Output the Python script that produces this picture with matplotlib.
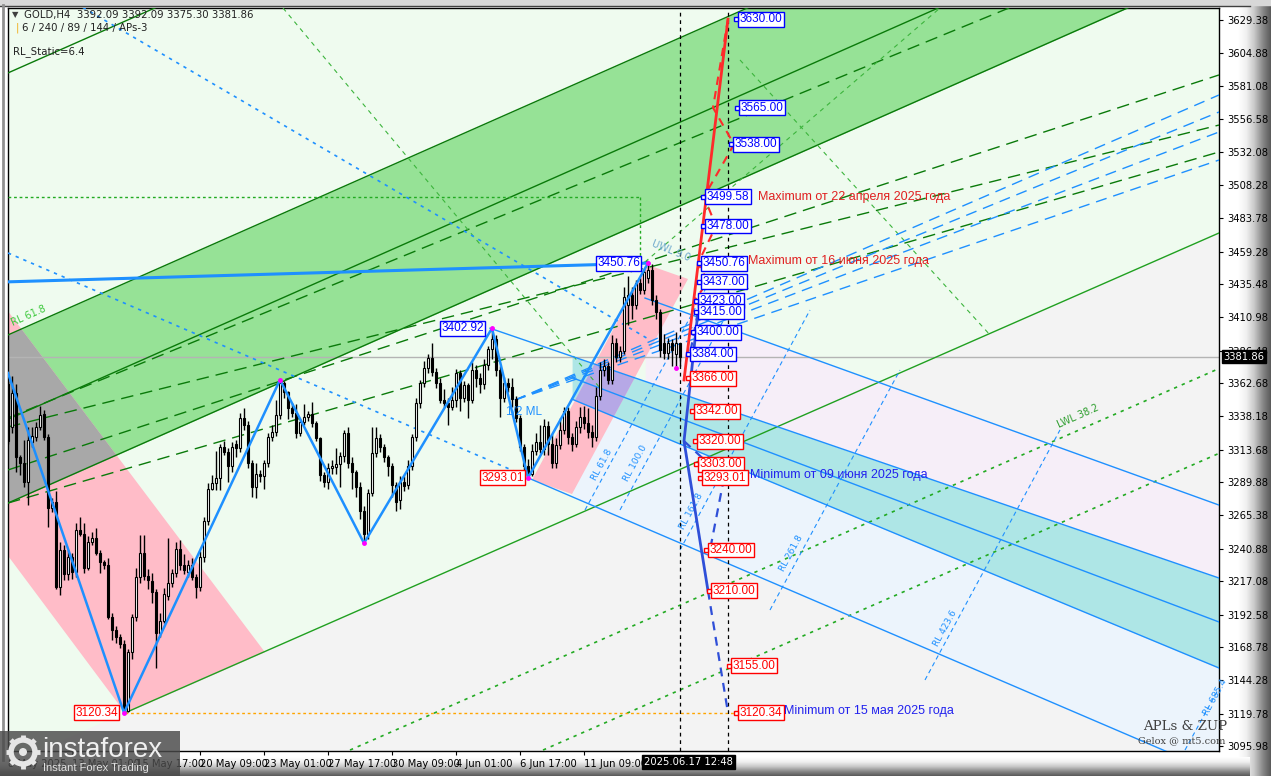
import numpy as np
import matplotlib
matplotlib.use("Agg")
import matplotlib.pyplot as plt
from matplotlib.patches import Polygon, Rectangle, Circle
from matplotlib.colors import LinearSegmentedColormap

# ---------------- data (H4 candles, bar index 0..168) ----------------
opens = [3362,3330,3355,3308,3304,3290,3319,3323,3330,3340,
         3323,3271,3275,3213,3240,3222,3235,3224,3255,3252,
         3227,3246,3249,3238,3231,3229,3191,3181,3176,3171,
         3122,3165,3191,3220,3238,3221,3217,3209,3179,3188,
         3206,3216,3223,3241,3229,3224,3229,3220,3213,3235,
         3261,3285,3289,3293,3316,3312,3302,3318,3315,3337,
         3332,3304,3286,3296,3294,3304,3323,3327,3339,3363,
         3356,3344,3341,3326,3334,3338,3340,3333,3322,3295,
         3290,3300,3301,3303,3309,3326,3304,3297,3286,3269,
         3252,3282,3311,3322,3316,3308,3302,3288,3277,3290,
         3288,3302,3323,3348,3363,3374,3381,3371,3363,3350,
         3348,3345,3350,3370,3352,3361,3350,3372,3366,3362,
         3376,3388,3395,3372,3352,3363,3360,3351,3337,3316,
         3302,3296,3313,3319,3314,3331,3318,3304,3317,3328,
         3342,3323,3318,3330,3338,3333,3327,3323,3353,3372,
         3375,3365,3392,3382,3386,3420,3427,3420,3436,3431,
         3440,3446,3424,3415,3392,3385,3392,3384,3392.09]
highs = [3364,3368,3362,3310,3321,3330,3330,3334,3346,3343,
         3325,3278,3283,3246,3244,3240,3238,3260,3264,3260,
         3250,3253,3256,3240,3233,3234,3194,3184,3178,3174,
         3167,3193,3227,3251,3251,3226,3223,3211,3194,3212,
         3249,3226,3246,3247,3237,3233,3234,3222,3239,3264,
         3289,3295,3313,3318,3320,3315,3319,3321,3341,3344,
         3335,3306,3304,3299,3306,3326,3332,3350,3365,3364,
         3357,3348,3347,3336,3347,3342,3349,3335,3323,3297,
         3304,3306,3315,3312,3328,3330,3308,3299,3290,3272,
         3285,3330,3330,3325,3318,3310,3304,3290,3294,3294,
         3306,3325,3352,3365,3379,3384,3392,3374,3366,3358,
         3352,3360,3373,3372,3364,3363,3378,3376,3370,3380,
         3390,3402.92,3398,3375,3367,3366,3366,3353,3339,3318,
         3307,3318,3326,3332,3336,3335,3325,3322,3337,3345,
         3345,3326,3335,3345,3346,3344,3332,3360,3378,3380,
         3378,3398,3396,3390,3433,3441,3433,3438,3440,3447,
         3450.76,3450,3427,3417,3399,3396,3395,3400,3392.09]
lows = [3318,3326,3297,3295,3286,3273,3316,3320,3328,3321,
        3257,3268,3211,3207,3218,3218,3219,3220,3250,3223,
        3225,3244,3236,3223,3226,3189,3174,3172,3168,3120.34,
        3121,3160,3188,3216,3218,3211,3201,3153,3176,3186,
        3203,3213,3220,3225,3222,3220,3218,3205,3210,3231,
        3258,3284,3284,3284,3310,3290,3297,3308,3312,3328,
        3300,3279,3278,3290,3285,3301,3320,3324,3336,3352,
        3336,3338,3322,3324,3332,3335,3330,3320,3291,3286,
        3285,3296,3296,3286,3305,3300,3285,3279,3263,3245,
        3248,3280,3308,3312,3305,3294,3279,3269,3270,3283,
        3285,3299,3320,3344,3360,3370,3368,3359,3348,3345,
        3332,3343,3345,3342,3349,3337,3348,3360,3355,3358,
        3372,3380,3368,3338,3349,3356,3345,3334,3313,3296,
        3293.01,3294,3310,3311,3310,3310,3300,3300,3314,3325,
        3318,3313,3316,3326,3329,3322,3316,3320,3350,3368,
        3362,3362,3378,3378,3384,3405,3410,3417,3428,3428,
        3436,3420,3410,3382,3380,3380,3375,3374,3375.30]
closes = [3320,3355,3308,3304,3290,3321,3324,3330,3339,3323,
          3271,3275,3213,3240,3222,3235,3224,3255,3252,3227,
          3246,3249,3238,3231,3229,3191,3181,3176,3171,3122,
          3165,3191,3220,3238,3221,3218,3209,3179,3188,3208,
          3216,3223,3241,3229,3225,3229,3220,3213,3235,3261,
          3285,3289,3293,3316,3312,3302,3316,3315,3337,3332,
          3304,3286,3296,3294,3304,3323,3327,3339,3363,3356,
          3344,3341,3326,3334,3338,3340,3333,3322,3295,3290,
          3300,3302,3303,3309,3326,3304,3297,3286,3269,3252,
          3282,3311,3322,3316,3308,3302,3288,3275,3290,3287,
          3302,3323,3348,3363,3374,3381,3371,3363,3350,3348,
          3345,3350,3370,3352,3361,3350,3372,3366,3362,3376,
          3388,3395,3372,3352,3363,3360,3351,3337,3316,3302,
          3296,3313,3319,3314,3331,3318,3304,3317,3328,3342,
          3323,3318,3330,3338,3333,3327,3323,3353,3372,3375,
          3365,3392,3382,3386,3426,3427,3420,3436,3431,3444,
          3446,3424,3415,3387,3385,3392,3387,3392,3381.86]

time_ticks = [0, 16, 32, 48, 64, 80, 96, 112, 128, 144]
time_labels = ["8 May 2025", "13 May 01:00", "15 May 17:00", "20 May 09:00",
               "23 May 01:00", "27 May 17:00", "30 May 09:00", "4 Jun 01:00",
               "6 Jun 17:00", "11 Jun 09:00"]
price_ticks = [3629.38, 3604.88, 3581.08, 3556.58, 3532.08, 3508.28, 3483.78,
               3459.28, 3435.48, 3410.98, 3386.48, 3362.68, 3338.18, 3313.68,
               3289.88, 3265.38, 3240.88, 3217.08, 3192.58, 3168.78, 3144.28,
               3119.78, 3095.98]
last_price = 3381.86
last_time = "2025.06.17 12:48"
last_bar = 168
future_bar = 180

zz_bars = [0, 29, 68, 89, 121, 130, 160]
zz_prices = [3370.0, 3120.34, 3365.0, 3245.0, 3402.92, 3293.01, 3450.76]

up_targets = [3630.00, 3565.00, 3538.00, 3499.58, 3478.00, 3450.76, 3437.00,
              3423.00, 3415.00, 3400.00, 3384.00]
dn_targets = [3366.00, 3342.00, 3320.00, 3303.00, 3293.01, 3240.00, 3210.00,
              3155.00, 3120.34]

# drawn objects, anchors as (bar, price)
green_band_lo = [(0, 3274.5), (103.5, 3409.0)]
green_band_hi = [(0, 3398.0), (103.5, 3532.5)]
green_band_mid = [(0, 3336.0), (103.5, 3470.5)]
green_chan_top = [(0, 3590.5), (103.5, 3725.0)]
green_low_line = [(29.25, 3120.34), (302.75, 3472.9)]
green_dot_1 = [(85.5, 3093.0), (302.75, 3373.3)]
green_dot_2 = [(133.75, 3093.0), (302.75, 3311.0)]
green_fan = [[(0, 3337.0), (302.75, 3701.4)],
             [(0, 3330.4), (302.75, 3552.2)],
             [(0, 3274.5), (302.75, 3532.4)],
             [(0, 3298.8), (302.75, 3589.0)]]
green_thin = [[(68.75, 3638.2), (148, 3359.0)],
              [(183, 3600.0), (245.5, 3398.0)],
              [(159.25, 3451.6), (233, 3638.2)]]
max_apr = 3499.58
pink_hi = [(28, 3306.1), (29, 3302.2)]
pink_lo = [(29.25, 3120.34), (30.25, 3116.4)]
blue_thick = [(0, 3437.0), (160, 3450.76)]
cyan_up = [(120.5, 3402.92), (302.75, 3219.4)]
cyan_mid = [(160.5, 3345.0), (302.75, 3187.1)]
cyan_lo = [(160.5, 3327.0), (302.75, 3153.3)]
line_a = [(159.25, 3425.1), (302.75, 3273.0)]
line_e = [(130, 3293.0), (273, 3112.9)]
blue_dot_1 = [(0, 3458.2), (130, 3293.6)]
blue_dot_2 = [(15, 3645.0), (160.5, 3394.3)]
blue_fan_origin = (126.75, 3350.2)
blue_fan_ends = [3574.3, 3561.8, 3547.1, 3526.5]
pink_chan = [(131, 3291.4), (160, 3449.4), (170, 3439.1), (141, 3281.1)]
rl_names = ["RL 61.8", "RL 100.0", "RL 161.8", "RL 261.8", "RL 423.6", "RL 685.4"]
rl_lines = [[(144.25, 3269.4), (174.25, 3431.0)],
            [(153, 3269.4), (183, 3431.0)],
            [(168, 3240.0), (200.5, 3416.3)],
            [(190.5, 3195.9), (223, 3372.2)],
            [(229.25, 3144.5), (263, 3328.2)],
            [(294.25, 3093.0), (302.75, 3138.6)]]
rl_text_at = [(147.5, 3290), (155.5, 3289), (169.5, 3254), (194.5, 3223), (233, 3168), (300.5, 3117)]

red_solid = [(169, 3364.9), (180, 3630.0)]
red_dashed = [(180, 3630), (176.25, 3565), (181.5, 3538), (174, 3499.58), (177, 3478),
              (172.5, 3450.76), (175, 3437), (171.5, 3423), (173, 3415)]
blue_solid = [(172.5, 3415), (169, 3320), (175, 3210)]
blue_dashed = [[(175, 3210), (180, 3120.34)],
               [(169, 3320), (179, 3293.01)],
               [(179, 3293.01), (175.5, 3240)],
               [(172.5, 3415), (170.5, 3384)]]

# ---------------- figure ----------------
W, H = 1271, 776
fig = plt.figure(figsize=(W / 100, H / 100), dpi=100)
fig.patch.set_facecolor("white")

bg = fig.add_axes([0, 0, 1, 1], zorder=-10)
bg.set_xlim(0, W); bg.set_ylim(H, 0); bg.axis("off")
bev = LinearSegmentedColormap.from_list("bev", ["#ffffff", "#f0f0f0", "#c8c8c8", "#8a8a8a", "#5a5a5a"])
g = np.linspace(0, 1, 64).reshape(1, -1)
bg.imshow(g, cmap=bev, extent=[1238, W, H, 0], aspect="auto", zorder=1)
bg.imshow(g.T, cmap=bev, extent=[0, 1250, H, 757], aspect="auto", zorder=1)
bg.add_patch(Rectangle((0, 0), W, 5, color="#d8d8d8", zorder=2))
bg.plot([0, 1250], [5.5, 5.5], color="#404040", lw=1, zorder=3)
bg.plot([3, 3], [5, 760], color="#909090", lw=2, zorder=3)

L, R, T, B = 8, 1219, 8, 751
ax = fig.add_axes([L / W, (H - B) / H, (R - L) / W, (B - T) / H])
XMAX = (R - L) / 4.0
ax.set_xlim(0, XMAX)
YLO = 3629.38 - 0.7347 * (B - 20)
YHI = 3629.38 + 0.7347 * (20 - T)
ax.set_ylim(YLO, YHI)
ax.set_facecolor("#f3f3f3")


def lin(seg):
    (x1, y1), (x2, y2) = seg
    k = (y2 - y1) / (x2 - x1)
    return lambda x: y1 + k * (np.asarray(x, dtype=float) - x1)


def draw(seg, x0=None, x1=None, **kw):
    f = lin(seg)
    a = seg[0][0] if x0 is None else x0
    b = seg[1][0] if x1 is None else x1
    xs = np.array([a, b])
    ax.plot(xs, f(xs), **kw)


XS = np.linspace(0, XMAX, 3000)
f_glow = lin(green_low_line)
f_blo, f_bhi = lin(green_band_lo), lin(green_band_hi)
f_plo, f_phi = lin(pink_lo), lin(pink_hi)

# background light green above the lower channel line
ax.fill_between(XS, f_glow(XS), YHI + 50, color="#effbef", lw=0, zorder=0.5)
# green band
ax.fill_between(XS, f_blo(XS), f_bhi(XS), color="#96e296", lw=0, zorder=1)
# pink band (left)
plo = np.maximum(f_plo(XS), f_glow(XS))
phi = f_phi(XS)
ax.fill_between(XS, plo, phi, where=phi > plo, color="#ffbcc8", lw=0, zorder=1.1)
glo = np.maximum(plo, f_blo(XS))
ghi = np.minimum(phi, f_bhi(XS))
ax.fill_between(XS, glo, ghi, where=ghi > glo, color="#a8a8a8", lw=0, zorder=1.2)

# pitchfork area fills
fa, fcu, fcl, fe = lin(line_a), lin(cyan_up), lin(cyan_lo), lin(line_e)
m = XS >= 159.25
ax.fill_between(XS[m], fcu(XS[m]), fa(XS[m]), color="#f6eef8", lw=0, zorder=1.3)
m = XS >= 141
ax.fill_between(XS[m], fe(XS[m]), fcl(XS[m]), where=fcl(XS[m]) > fe(XS[m]),
                color="#ecf4fc", lw=0, zorder=1.3)
cyan = ax.fill_between(XS[m], fcl(XS[m]), fcu(XS[m]), color="#aee6e6", lw=0, zorder=1.4)
pink_patch = Polygon(pink_chan, closed=True, fc="#ffbcc8", ec="none", zorder=1.5)
ax.add_patch(pink_patch)
purple = ax.fill_between(XS[m], fcl(XS[m]), fcu(XS[m]), color="#b6a8e6", lw=0, zorder=1.6)
purple.set_clip_path(pink_patch)

# green lines
DG = "#0a7a0a"
draw(green_band_lo, 0, XMAX, color=DG, lw=1, zorder=3)
draw(green_band_hi, 0, XMAX, color=DG, lw=1, zorder=3)
draw(green_band_mid, 0, XMAX, color=DG, lw=1, zorder=3)
draw(green_chan_top, 0, XMAX, color=DG, lw=1, zorder=3)
draw(green_low_line, 29.25, XMAX, color="#20a020", lw=1, zorder=3)
for s in green_fan:
    draw(s, color=DG, lw=1, ls=(0, (9, 5)), zorder=3)
draw(green_dot_1, color="#22aa22", lw=1.2, ls=(0, (2, 3)), zorder=3)
draw(green_dot_2, color="#22aa22", lw=1.2, ls=(0, (2, 3)), zorder=3)
for s in green_thin:
    draw(s, color="#3cb43c", lw=0.8, ls=(0, (4, 4)), zorder=3)
ax.plot([0, 158], [max_apr, max_apr], color="#22aa22", lw=1, ls=(0, (2, 2)), zorder=3)
ax.plot([158, 158], [max_apr, 3452], color="#22aa22", lw=1, ls=(0, (2, 2)), zorder=3)

# blue lines
BL = "#1e90ff"
draw(blue_thick, color=BL, lw=2.2, zorder=4)
draw(cyan_up, 120.5, XMAX, color=BL, lw=1, zorder=4)
draw(cyan_mid, 141, XMAX, color=BL, lw=1, zorder=4)
draw(cyan_lo, 141, XMAX, color=BL, lw=1, zorder=4)
draw(line_a, 159.25, XMAX, color=BL, lw=1, zorder=4)
draw(line_e, 130, XMAX, color=BL, lw=1, zorder=4)
draw(blue_dot_1, color=BL, lw=1.2, ls=(0, (2, 3)), zorder=4)
draw(blue_dot_2, color=BL, lw=1.2, ls=(0, (2, 3)), zorder=4)
for pe_ in blue_fan_ends:
    draw([blue_fan_origin, (XMAX, pe_)], color=BL, lw=1, ls=(0, (8, 5)), zorder=4)
for s, name, (tx, ty) in zip(rl_lines, rl_names, rl_text_at):
    draw(s, color=BL, lw=0.8, ls=(0, (4, 3)), zorder=4)
    ax.text(tx, ty, name, color=BL, fontsize=6.5, rotation=61.6, rotation_mode="anchor",
            ha="left", va="bottom", zorder=4)

# reference lines
ax.axhline(last_price, color="#b4b4b4", lw=1, zorder=2)
ax.plot([29.25, 181.75], [3120.34, 3120.34], color="#ffa500", lw=1, ls=(0, (2, 2)), zorder=3)
ax.axvline(last_bar, color="black", lw=0.9, ls=(0, (3, 3)), zorder=4)
ax.axvline(future_bar, color="black", lw=0.9, ls=(0, (3, 3)), zorder=4)

# candles
x = np.arange(len(opens))
o, h, l, c = (np.array(v, dtype=float) for v in (opens, highs, lows, closes))
upb = c >= o
ax.vlines(x, np.minimum(l, np.minimum(o, c)), np.maximum(h, np.maximum(o, c)),
          color="black", lw=1, zorder=5)
ax.bar(x[upb], np.maximum((c - o)[upb], 0.4), bottom=o[upb], width=0.62, color="white",
       edgecolor="black", lw=0.8, zorder=6)
ax.bar(x[~upb], np.maximum((o - c)[~upb], 0.4), bottom=c[~upb], width=0.62, color="black",
       edgecolor="black", lw=0.8, zorder=6)

# zigzag
ax.plot(zz_bars, zz_prices, color=BL, lw=1.8, zorder=6.5)
ax.plot(zz_bars[1:], zz_prices[1:], "o", ms=2.5, color="#ff00ff", zorder=6.6)
ax.plot([167], [3374], "o", ms=2.5, color="#ff00ff", zorder=6.6)

# projections
RED, DBL = "#ff2a2a", "#2f4fd8"
ax.plot(*zip(*red_solid), color=RED, lw=2, zorder=6.7)
ax.plot(*zip(*red_dashed), color=RED, lw=1.5, ls=(0, (4, 3)), zorder=6.7)
ax.plot(*zip(*blue_solid), color=DBL, lw=2, zorder=6.7)
for s in blue_dashed:
    ax.plot(*zip(*s), color=DBL, lw=1.6, ls=(0, (4, 3)), zorder=6.7)

FONT = ["Liberation Sans", "DejaVu Sans"]


def box(xb, yp, txt, col, ha="left"):
    ax.text(xb, yp, txt, color=col, fontsize=8.5, family=FONT, ha=ha, va="center", zorder=8,
            bbox=dict(boxstyle="square,pad=0.12", fc="white", ec=col, lw=1))


up_x = [182.9, 183.15, 181.65, 174.65, 174.65, 173.65, 173.65, 172.9, 172.9, 172.15, 170.9]
dn_x = [170.9, 171.9, 172.65, 172.9, 173.9, 175.4, 176.15, 181.15, 182.9]
for xb, p in zip(up_x, up_targets):
    box(xb, p, f"{p:.2f}", "#0000ff")
    ax.plot([xb - 0.9], [p], "s", ms=3.5, mfc="white", mec="#0000ff", mew=1, zorder=8)
for xb, p in zip(dn_x, dn_targets):
    box(xb, p, f"{p:.2f}", "#ff0000")
    ax.plot([xb - 0.9], [p], "s", ms=3.5, mfc="white", mec="#ff0000", mew=1, zorder=8)

box(158, 3450.76, "3450.76", "#0000ff", ha="right")
box(119, 3402.92, "3402.92", "#0000ff", ha="right")
box(129, 3293.01, "3293.01", "#ff0000", ha="right")
box(27.5, 3120.34, "3120.34", "#ff0000", ha="right")

ax.text(187.4, 3499.58, "Maximum от 22 апреля 2025 года", color="#e02020", fontsize=9, family=FONT,
        va="center", zorder=8)
ax.text(184.9, 3452.0, "Maximum от 16 июня 2025 года", color="#e02020", fontsize=9, family=FONT,
        va="center", zorder=8)
ax.text(185.4, 3295.0, "Minimum от 09 июня 2025 года", color="#2222ee", fontsize=9, family=FONT,
        va="center", zorder=8)
ax.text(193.9, 3121.5, "Minimum от 15 мая 2025 года", color="#2222ee", fontsize=9, family=FONT,
        va="center", zorder=8)

ax.text(124.5, 3341.4, "1/2 ML", color=BL, fontsize=8.5, family=FONT, zorder=7, va="center")
ax.text(160.5, 3452.5, "UWL 9.0", color="#6aa6cc", fontsize=7, rotation=-22, zorder=7)
ax.text(0.5, 3405, "RL 61.8", color="#3cc83c", fontsize=7, rotation=24, zorder=7)
ax.text(262, 3330, "LWL 38.2", color="#2e9e2e", fontsize=7, rotation=24, zorder=7)

# axes styling
for s in ax.spines.values():
    s.set_color("black"); s.set_linewidth(1)
ax.yaxis.tick_right()
ax.set_yticks(price_ticks)
ax.set_yticklabels([f"{v:.2f}" for v in price_ticks])
ax.tick_params(axis="y", labelsize=7.2, length=3, pad=3, colors="black")
ax.set_xticks(time_ticks)
ax.set_xticklabels(time_labels)
ax.tick_params(axis="x", labelsize=7.2, length=3, pad=3)
for lab in ax.get_xticklabels():
    lab.set_ha("left")
ax.annotate(f"{last_price:.2f}", xy=(1, last_price), xycoords=("axes fraction", "data"),
            xytext=(3, 0), textcoords="offset points", ha="left", va="center", color="white",
            fontsize=7.2, bbox=dict(boxstyle="square,pad=0.15", fc="black", ec="black"), zorder=9,
            annotation_clip=False)
ax.annotate(last_time, xy=(last_bar - 9, 0), xycoords=("data", "axes fraction"),
            xytext=(0, -4), textcoords="offset points", ha="left", va="top", color="white",
            fontsize=7.2, bbox=dict(boxstyle="square,pad=0.2", fc="black", ec="black"), zorder=9,
            annotation_clip=False)

# overlay: header, signature, logo
ov = fig.add_axes([0, 0, 1, 1], zorder=10)
ov.set_xlim(0, W); ov.set_ylim(H, 0); ov.axis("off"); ov.patch.set_alpha(0)
ov.text(12, 15, "▼", fontsize=6, color="#404040", va="center")
ov.text(24, 15, "GOLD,H4  3392.09 3392.09 3375.30 3381.86", fontsize=7.3, color="#202020",
        va="center", family=["DejaVu Sans"])
ov.text(16, 28, "|", fontsize=7.3, color="#f0b020", va="center")
ov.text(22, 28, "6 / 240 / 89 / 144 / APs-3", fontsize=7.3, color="#202020", va="center")
ov.text(13, 52, "RL_Static=6.4", fontsize=7.3, color="#202020", va="center")
ov.text(1143, 727, "APLs & ZUP", fontsize=9.5, color="#404040", family="DejaVu Serif", va="center")
ov.text(1138, 741, "Gelox @ mt5.com", fontsize=7, color="#404040", family="DejaVu Serif", va="center")
ov.add_patch(Rectangle((0, 731), 180, 45, fc="#4a4a4a", ec="none", alpha=0.82))
ov.add_patch(Circle((23, 752), 12, fc="none", ec="#e6e6e6", lw=4))
ov.add_patch(Circle((23, 752), 4, fc="#e6e6e6", ec="none"))
for ang in np.arange(0, 360, 45):
    r = np.deg2rad(ang)
    ov.plot([23 + 12 * np.cos(r), 23 + 17 * np.cos(r)], [752 + 12 * np.sin(r), 752 + 17 * np.sin(r)],
            color="#e6e6e6", lw=3.5, solid_capstyle="butt")
ov.text(42, 750, "instaforex", fontsize=20, color="#f0f0f0", va="center", family=FONT)
ov.text(43, 768, "Instant Forex Trading", fontsize=8, color="#e0e0e0", va="center", family=FONT)

fig.savefig("out.png", dpi=100, facecolor=fig.get_facecolor())
